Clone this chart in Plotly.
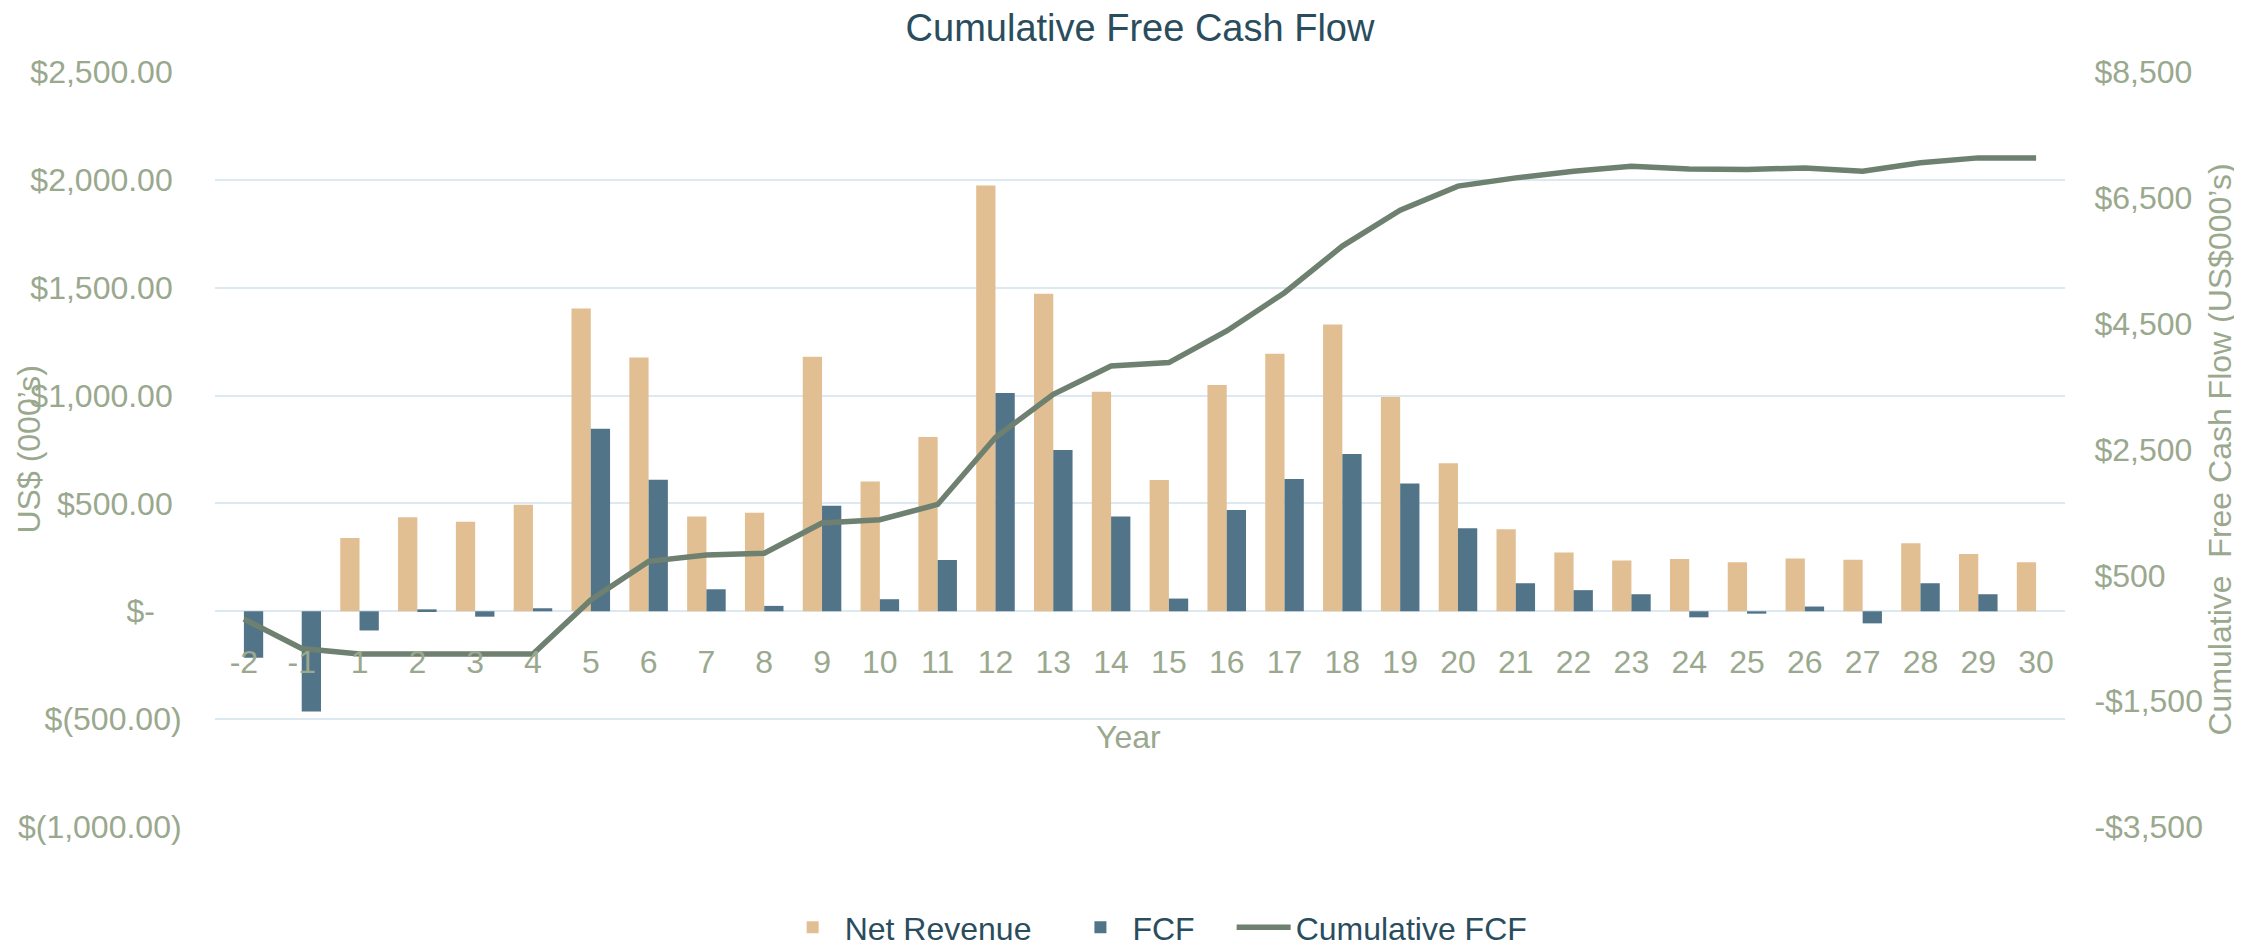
import plotly.graph_objects as go

years = ["-2", "-1"] + [str(i) for i in range(1, 31)]
net_revenue = [0, 0, 340, 436, 415, 494, 1404, 1177, 439, 457, 1180, 602, 808, 1974, 1472, 1018,
               609, 1049, 1194, 1330, 993, 686, 380, 273, 236, 242, 227, 245, 239, 315, 266, 227]
fcf = [-215, -465, -89, 9, -25, 14, 846, 610, 102, 25, 489, 56, 238, 1012, 748, 439,
       59, 470, 613, 729, 592, 385, 130, 98, 79, -28, -11, 22, -56, 130, 79, 0]
cumulative_fcf = [-193, -662, -749, -743, -757, -752, 110, 722, 823, 850, 1331, 1384, 1627, 2690, 3378, 3828,
                  3881, 4384, 4992, 5733, 6305, 6686, 6817, 6924, 7003, 6960, 6950, 6976, 6924, 7056, 7135, 7135]

left_vals = [-1000, -500, 0, 500, 1000, 1500, 2000, 2500]
left_text = ["$(1,000.00)", "$(500.00)", "$-\u2007\u2008", "$500.00\u2008", "$1,000.00\u2008",
             "$1,500.00\u2008", "$2,000.00\u2008", "$2,500.00\u2008"]
right_vals = [-3500, -1500, 500, 2500, 4500, 6500, 8500]
right_text = ["-$3,500", "-$1,500", "$500", "$2,500", "$4,500", "$6,500", "$8,500"]

FONT = "Liberation Sans, Arial, sans-serif"
SAGE = "#9AA88E"
TEAL = "#2A4D5E"
GRID = "#DCE9F1"

fig = go.Figure()
fig.add_trace(go.Bar(x=years, y=net_revenue, name="Net Revenue\u2003", marker_color="#E2BF92",
                     marker_line_width=0))
fig.add_trace(go.Bar(x=years, y=fcf, name="FCF\u2003", marker_color="#527489", marker_line_width=0))
fig.add_trace(go.Scatter(x=years, y=cumulative_fcf, name="Cumulative FCF", mode="lines",
                         line=dict(color="#6E8070", width=5.5), yaxis="y2"))

fig.update_layout(
    width=2242, height=949,
    margin=dict(l=207, r=185, t=64, b=130, autoexpand=False),
    paper_bgcolor="white", plot_bgcolor="white",
    barmode="group", bargap=0.333, bargroupgap=0,
    font=dict(family=FONT, size=32, color=SAGE),
    title=dict(text="Cumulative Free Cash Flow", x=0.5, xref="paper", xanchor="center",
               y=1 - 20 / 949, yref="container", yanchor="middle",
               font=dict(family=FONT, size=38, color=TEAL)),
    xaxis=dict(type="category", categoryorder="array", categoryarray=years,
               anchor="free", position=1000 / 3500, showgrid=False, showline=False,
               zeroline=False, ticks="outside", ticklen=22, tickcolor="rgba(0,0,0,0)",
               tickfont=dict(size=32, color=SAGE)),
    yaxis=dict(range=[-1000, 2500], tickvals=left_vals, ticktext=left_text,
               showgrid=True, gridcolor=GRID, gridwidth=1.5,
               zeroline=True, zerolinecolor=GRID, zerolinewidth=1.5,
               ticks="outside", ticklen=26, tickcolor="rgba(0,0,0,0)",
               tickfont=dict(size=32, color=SAGE), fixedrange=True),
    yaxis2=dict(range=[-3500, 8500], tickvals=right_vals, ticktext=right_text,
                overlaying="y", side="right", showgrid=False, zeroline=False,
                ticks="outside", ticklen=22, tickcolor="rgba(0,0,0,0)",
                tickfont=dict(size=32, color=SAGE)),
    legend=dict(orientation="h", xref="paper", x=0.509, xanchor="center",
                yref="container", y=1 - 892 / 949, yanchor="top", itemwidth=54,
                font=dict(family=FONT, size=32, color=TEAL), traceorder="normal",
                bgcolor="rgba(0,0,0,0)"),
    showlegend=True,
)

fig.add_annotation(text="US$ (000\u2019s)", x=(20 - 207) / 1850, y=0.5, xref="paper", yref="paper",
                   textangle=-90, showarrow=False, xanchor="center", yanchor="middle",
                   font=dict(family=FONT, size=32, color=SAGE))
fig.add_annotation(text="Cumulative  Free Cash Flow (US$000\u2019s)", x=(2211 - 207) / 1850, y=0.5,
                   xref="paper", yref="paper", textangle=-90, showarrow=False,
                   xanchor="center", yanchor="middle",
                   font=dict(family=FONT, size=32, color=SAGE))
fig.add_annotation(text="Year", x=(1120 - 207) / 1850, y=(819 - 729) / 755, xref="paper", yref="paper",
                   showarrow=False, xanchor="center", yanchor="middle",
                   font=dict(family=FONT, size=32, color=SAGE))

fig.write_html("out.html")
